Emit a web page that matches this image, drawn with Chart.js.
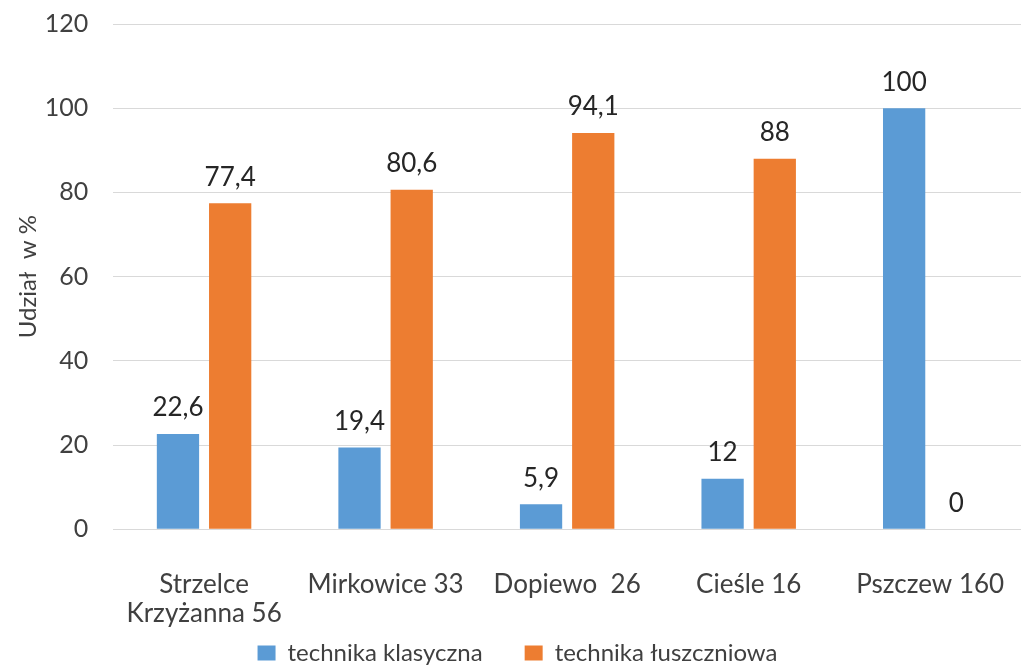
<!DOCTYPE html>
<html>
<head>
<meta charset="utf-8">
<script src="https://cdn.jsdelivr.net/npm/chart.js@4/dist/chart.umd.min.js"></script>
<style>
  html, body { margin: 0; padding: 0; background: #fff; }
  #wrap { width: 1029px; height: 665px; }
</style>
</head>
<body>
<div id="wrap"><canvas id="chart"></canvas></div>
<script>
const categories = [
  ["Strzelce", "Krzyżanna 56"],
  "Mirkowice 33",
  "Dopiewo  26",
  "Cieśle 16",
  "Pszczew 160",
];
const klasyczna = [22.6, 19.4, 5.9, 12, 100];
const luszczniowa = [77.4, 80.6, 94.1, 88, 0];
const yTicks = [0, 20, 40, 60, 80, 100, 120];

const fontFamily = "Lato, 'Open Sans', sans-serif";

// value labels above each bar
const valueLabels = {
  id: "valueLabels",
  afterDatasetsDraw(chart) {
    const ctx = chart.ctx;
    ctx.save();
    ctx.font = "26px " + fontFamily;
    ctx.fillStyle = "#262626";
    ctx.textAlign = "center";
    ctx.textBaseline = "bottom";
    chart.data.datasets.forEach((ds, i) => {
      chart.getDatasetMeta(i).data.forEach((bar, j) => {
        const txt = String(ds.data[j]).replace(".", ",");
        ctx.fillText(txt, bar.x, bar.y - 13);
      });
    });
    ctx.restore();
  },
};

new Chart(document.getElementById("chart"), {
  type: "bar",
  data: {
    labels: categories,
    datasets: [
      {
        label: "technika klasyczna",
        data: klasyczna,
        backgroundColor: "#5B9BD5",
        categoryPercentage: 0.575,
        barPercentage: 0.81,
      },
      {
        label: "technika łuszczniowa",
        data: luszczniowa,
        backgroundColor: "#ED7D31",
        categoryPercentage: 0.575,
        barPercentage: 0.81,
      },
    ],
  },
  options: {
    responsive: true,
    maintainAspectRatio: false,
    animation: false,
    layout: { padding: { top: 24, right: 8, left: 14, bottom: -10 } },
    plugins: {
      legend: {
        position: "bottom",
        labels: {
          boxWidth: 18,
          boxHeight: 15,
          padding: 12,
          color: "#404040",
          font: { family: fontFamily, size: 24 },
          // wider gap after the first entry, like the original
          generateLabels(chart) {
            const items = Chart.defaults.plugins.legend.labels.generateLabels(chart);
            items[0].text += "\u2003\u2002";
            return items;
          },
        },
      },
      tooltip: { enabled: false },
    },
    scales: {
      x: {
        grid: {
          display: true,
          drawOnChartArea: false,
          drawTicks: true,
          tickLength: 40,
          tickColor: "rgba(0,0,0,0)",
        },
        border: { display: false },
        ticks: {
          color: "#404040",
          font: { family: fontFamily, size: 26, lineHeight: 1.15 },
          padding: 0,
        },
      },
      y: {
        min: 0,
        max: 120,
        afterBuildTicks(scale) {
          scale.ticks = yTicks.map((v) => ({ value: v }));
        },
        grid: {
          color: "#d9d9d9",
          drawTicks: true,
          tickLength: 25,
          tickColor: "rgba(0,0,0,0)",
        },
        border: { display: false },
        ticks: {
          color: "#404040",
          font: { family: fontFamily, size: 25 },
          padding: 0,
        },
        title: {
          display: true,
          text: "Udział  w %",
          color: "#404040",
          font: { family: fontFamily, size: 24 },
          padding: { top: 0, bottom: 2 },
        },
      },
    },
  },
  plugins: [valueLabels],
});
</script>
</body>
</html>
